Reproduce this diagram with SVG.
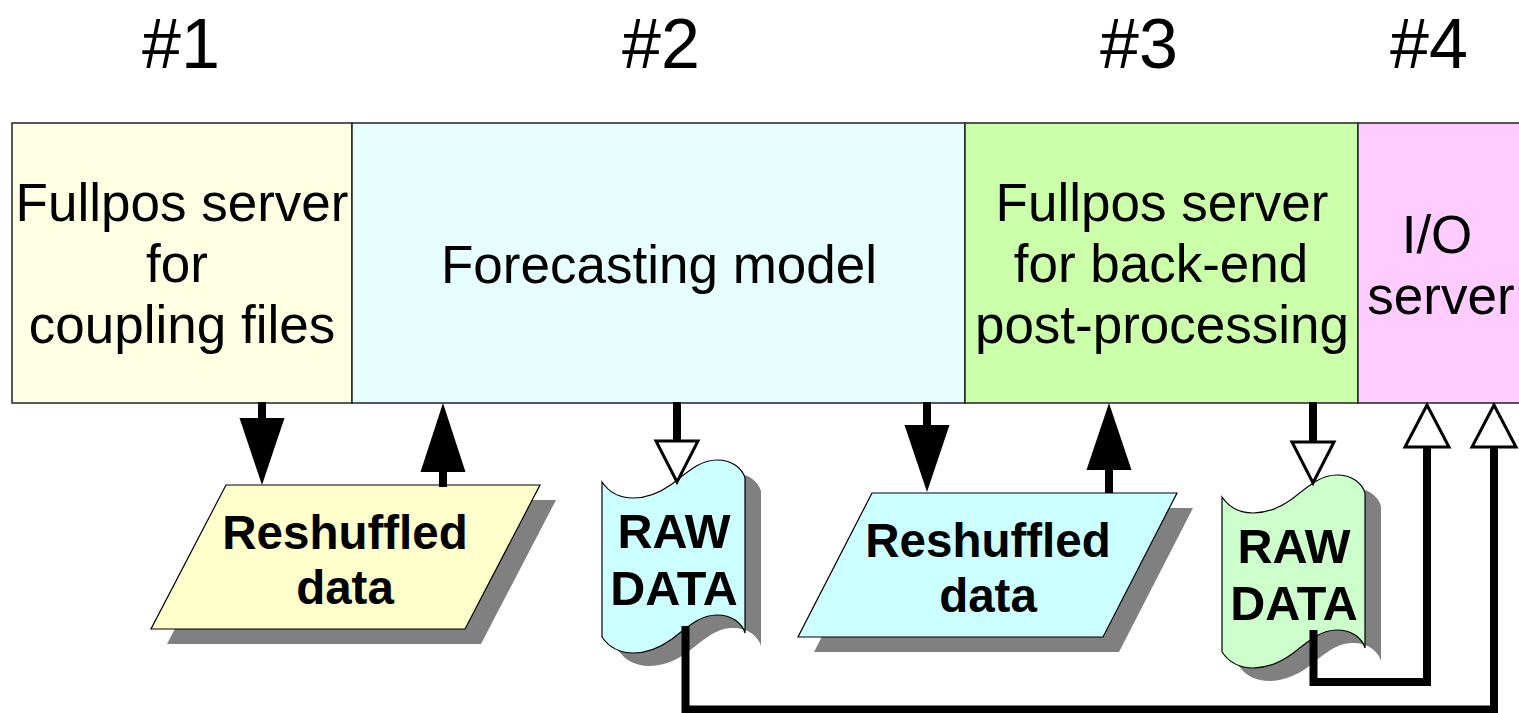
<svg xmlns="http://www.w3.org/2000/svg" width="1519" height="713" viewBox="0 0 1519 713">
<defs>
<style>
.box{stroke:#222;stroke-width:1.5}
.ttl{font-family:"Liberation Sans",Arial,sans-serif;font-size:70px;fill:#000;text-anchor:middle}
.lbl{font-family:"Liberation Sans",Arial,sans-serif;font-size:53px;fill:#000;text-anchor:middle}
.bl{font-family:"Liberation Sans",Arial,sans-serif;font-size:47.5px;font-weight:bold;fill:#000;text-anchor:middle}
.bt{font-family:"Liberation Sans",Arial,sans-serif;font-size:48.5px;font-weight:bold;fill:#000;text-anchor:middle}
.shp{stroke:#000;stroke-width:1.2}
.sh{fill:#808080}
.ln{fill:none;stroke:#000;stroke-width:8}
.hf{fill:#000}
.hh{fill:#fff;stroke:#000;stroke-width:3;stroke-linejoin:miter}
</style>
<path id="tape" d="M0,0 C15,22 45,20 70,2 C90,-14 100,-22 115,-22 C130,-22 140,-14 143,-4 L143,151 C140,141 130,133 115,133 C100,133 90,141 70,157 C45,175 15,177 0,155 Z"/>
</defs>
<rect width="1519" height="713" fill="#fff"/>

<g id="titles">
<text class="ttl" x="181" y="68">#1</text>
<text class="ttl" x="661" y="68">#2</text>
<text class="ttl" x="1139" y="68">#3</text>
<text class="ttl" x="1429" y="68">#4</text>
</g>

<g id="node-fullpos-coupling">
<rect class="box" x="12" y="123" width="340" height="280" fill="#ffffe3"/>
<text class="lbl" x="182" y="221">Fullpos server</text>
<text class="lbl" x="177" y="282">for</text>
<text class="lbl" x="182" y="343">coupling files</text>
</g>
<g id="node-forecast">
<rect class="box" x="352" y="123" width="613" height="280" fill="#e6fefe"/>
<text class="lbl" x="659" y="283">Forecasting model</text>
</g>
<g id="node-fullpos-backend">
<rect class="box" x="965" y="123" width="393" height="280" fill="#ccffaa"/>
<text class="lbl" x="1162" y="221">Fullpos server</text>
<text class="lbl" x="1161" y="282">for back-end</text>
<text class="lbl" x="1162" y="343">post-processing</text>
</g>
<g id="node-io">
<rect class="box" x="1358" y="123" width="175" height="280" fill="#ffccff"/>
<text class="lbl" x="1437" y="253">I/O</text>
<text class="lbl" x="1441" y="314">server</text>
</g>

<g id="node-reshuffled1">
<polygon class="sh" points="242,500 556,500 481,644 167,644"/>
<polygon class="shp" points="226,485 540,485 465,629 151,629" fill="#ffffcc"/>
<text class="bl" x="345" y="549">Reshuffled</text>
<text class="bl" x="345" y="604">data</text>
</g>
<g id="node-reshuffled2">
<polygon class="sh" points="888,508 1193,508 1119,652 814,652"/>
<polygon class="shp" points="872,493 1177,493 1103,637 798,637" fill="#ccffff"/>
<text class="bl" x="988" y="557">Reshuffled</text>
<text class="bl" x="988" y="612">data</text>
</g>
<g id="node-raw1">
<use href="#tape" class="sh" transform="translate(618,495)"/>
<use href="#tape" class="shp" fill="#ccffff" transform="translate(602,482)"/>
<text class="bt" x="674" y="548">RAW</text>
<text class="bt" x="674" y="605">DATA</text>
</g>
<g id="node-raw2">
<use href="#tape" class="sh" transform="translate(1238,510)"/>
<use href="#tape" class="shp" fill="#ccffcc" transform="translate(1222,497)"/>
<text class="bt" x="1294" y="563">RAW</text>
<text class="bt" x="1294" y="620">DATA</text>
</g>

<g id="connectors">
<line class="ln" x1="262" y1="402" x2="262" y2="420"/>
<polygon class="hf" points="239.5,418 284.5,418 262,485"/>
<line class="ln" x1="443" y1="470" x2="443" y2="487"/>
<polygon class="hf" points="420.5,472 465.5,472 443,403"/>
<line class="ln" x1="927" y1="402" x2="927" y2="427"/>
<polygon class="hf" points="904.5,425 949.5,425 927,492"/>
<line class="ln" x1="1109" y1="468" x2="1109" y2="493"/>
<polygon class="hf" points="1086.5,470 1131.5,470 1109,403"/>
<line class="ln" x1="677" y1="402" x2="677" y2="441"/>
<polygon class="hh" points="656,441 698,441 677,482"/>
<line class="ln" x1="1313" y1="402" x2="1313" y2="442"/>
<polygon class="hh" points="1292,442 1334,442 1313,483"/>
<polyline class="ln" points="685.5,626 685.5,709.5 1494,709.5 1494,447"/>
<polygon class="hh" points="1472,447 1516,447 1494,405"/>
<polyline class="ln" points="1313.5,630 1313.5,682 1427,682 1427,447"/>
<polygon class="hh" points="1405,447 1449,447 1427,405"/>
</g>
</svg>
